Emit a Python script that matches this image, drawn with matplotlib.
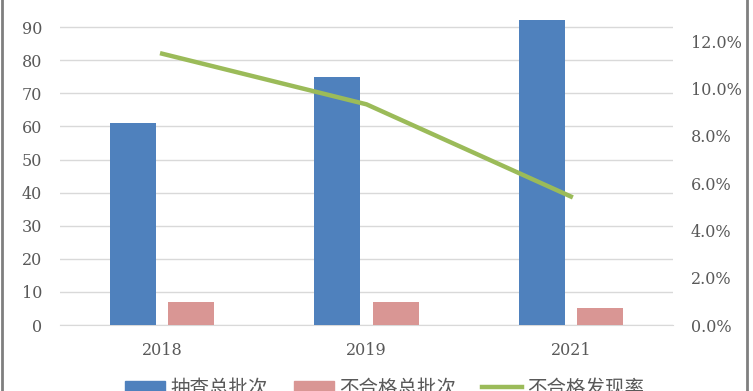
import matplotlib
matplotlib.use('Agg')
import numpy as np
from matplotlib import pyplot as plt
from matplotlib.lines import Line2D
from matplotlib.patches import Patch
from matplotlib.ticker import FuncFormatter

years = ['2018', '2019', '2021']
total_batches = [61, 75, 92]
failed_batches = [7, 7, 5]
fail_rate = [7 / 61 * 100, 7 / 75 * 100, 5 / 92 * 100]
left_ticks = [0, 10, 20, 30, 40, 50, 60, 70, 80, 90, 100]
right_ticks = [0, 2, 4, 6, 8, 10, 12, 14]
legend_labels = ['抽查总批次', '不合格总批次', '不合格发现率']

blue = '#4F81BD'
pink = '#D99694'
green = '#9BBB59'
txt = '#595959'

plt.rcParams['font.family'] = ['DejaVu Serif', 'Noto Sans CJK SC']

fig = plt.figure(figsize=(7.53, 3.91), dpi=100)
ax = fig.add_axes([60 / 753, 66 / 391, 613 / 753, 331 / 391])

x = np.arange(len(years))
w = 0.225
ax.bar(x - 0.142, total_batches, width=w, color=blue, zorder=3)
ax.bar(x + 0.142, failed_batches, width=w, color=pink, zorder=3)
ax.set_xlim(-0.5, 2.5)
ax.set_ylim(0, 100)
ax.set_yticks(left_ticks)
ax.set_xticks(x)
ax.set_xticklabels(years)
ax.yaxis.grid(True, color='#D9D9D9', linewidth=1, zorder=0)
for s in ax.spines.values():
    s.set_visible(False)
ax.spines['bottom'].set_visible(True)
ax.spines['bottom'].set_color('#D9D9D9')
ax.tick_params(axis='both', length=0, colors=txt, labelsize=11.5)
ax.tick_params(axis='y', pad=13)
ax.tick_params(axis='x', pad=12)

ax2 = ax.twinx()
ax2.plot(x, fail_rate, color=green, linewidth=3.2, zorder=4)
ax2.set_ylim(0, 14)
ax2.set_yticks(right_ticks)
ax2.yaxis.set_major_formatter(FuncFormatter(lambda v, p: '%.1f%%' % v))
for s in ax2.spines.values():
    s.set_visible(False)
ax2.tick_params(axis='y', length=0, colors=txt, labelsize=11.5, pad=13)

handles = [Patch(color=blue), Patch(color=pink), Line2D([], [], color=green, linewidth=3.2)]
fig.legend(handles, legend_labels, loc='center', bbox_to_anchor=(0.511, 0.006),
           ncol=3, frameon=False, fontsize=14, handlelength=2.05, handleheight=0.6,
           handletextpad=0.26, columnspacing=1.35, labelcolor=txt)

# outer frame, only the sides show
fig.add_artist(Line2D([2 / 753, 2 / 753], [0, 1], color='#7F7F7F', linewidth=2))
fig.add_artist(Line2D([747 / 753, 747 / 753], [0, 1], color='#7F7F7F', linewidth=2))

fig.savefig('out.png', dpi=100)
